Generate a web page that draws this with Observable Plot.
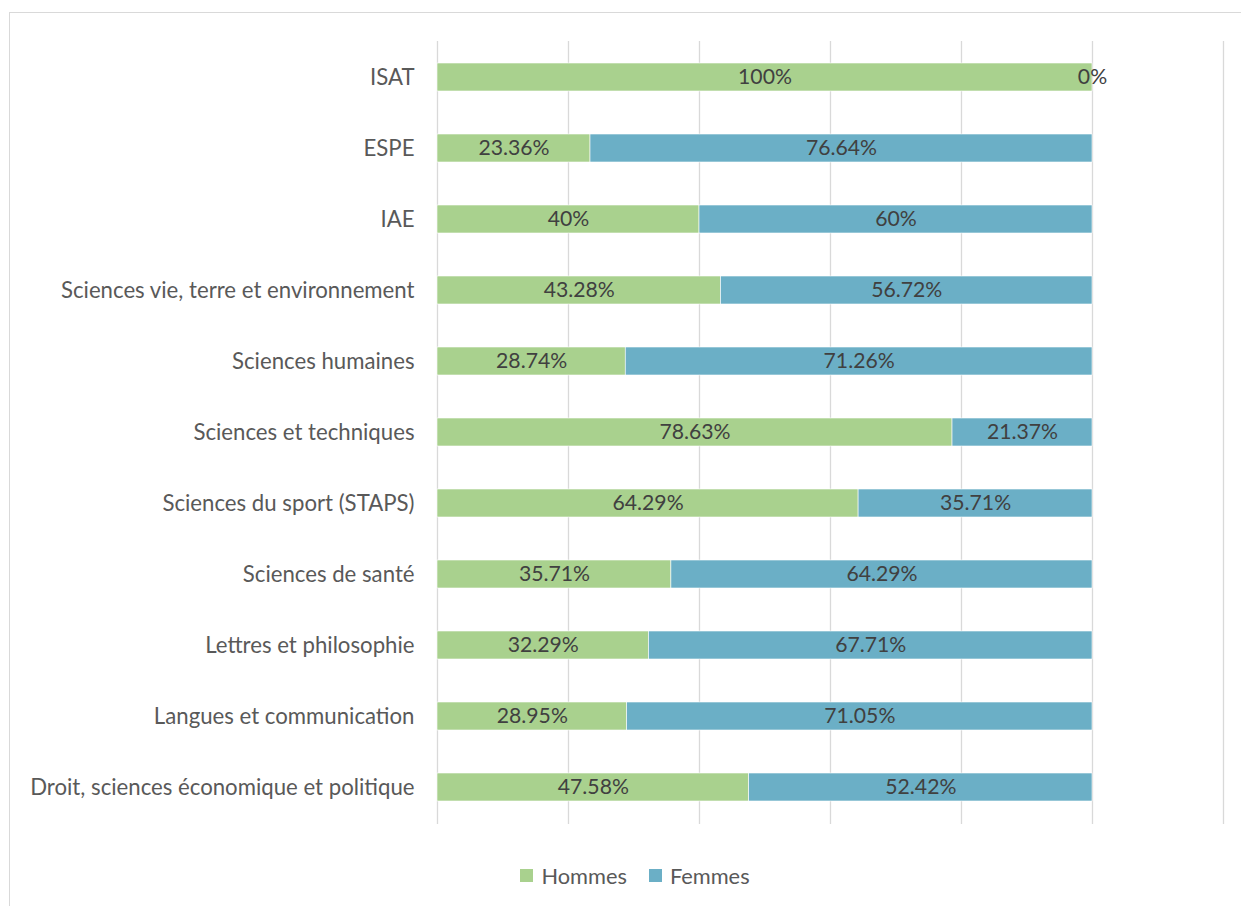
<!DOCTYPE html>
<html><head><meta charset="utf-8">
<script src="https://cdn.jsdelivr.net/npm/d3@7"></script>
<script src="https://cdn.jsdelivr.net/npm/@observablehq/plot@0.6"></script>
<style>
html,body{margin:0;padding:0;background:#fff;overflow:hidden;width:1241px;height:906px;}
#frame{position:absolute;left:9px;top:12px;width:1300px;height:1000px;border:1px solid #d9d9d9;box-sizing:border-box;}
#chart{position:absolute;left:0;top:0;}
#legend{position:absolute;left:0;top:862px;width:1270px;display:flex;justify-content:center;align-items:center;font-family:Lato,sans-serif;font-size:21.8px;color:#595959;}
#legend .item{display:flex;align-items:center;margin:0 11px;}
#legend .sw{width:13px;height:13px;margin-right:8px;}
</style></head>
<body>
<div id="frame"></div>
<div id="chart"></div>
<div id="legend"></div>
<script>
const categories = ["ISAT","ESPE","IAE","Sciences vie, terre et environnement","Sciences humaines","Sciences et techniques","Sciences du sport (STAPS)","Sciences de santé","Lettres et philosophie","Langues et communication","Droit, sciences économique et politique"];
const hommes = [1.00,0.2336,0.40,0.4328,0.2874,0.7863,0.6429,0.3571,0.3229,0.2895,0.4758];
const femmes = [0.00,0.7664,0.60,0.5672,0.7126,0.2137,0.3571,0.6429,0.6771,0.7105,0.5242];
const series = ["Hommes","Femmes"];
const colors = ["#a9d18e","#6bafc6"];
const gridTicks = [0,0.2,0.4,0.6,0.8,1.0,1.2];

const data = [];
categories.forEach((c,i)=>{
  data.push({cat:c, serie:series[0], value:hommes[i]});
  data.push({cat:c, serie:series[1], value:femmes[i]});
});
const fmt = v => `${+(v*100).toFixed(2)}%`;

const plot = Plot.plot({
  width:1241, height:840,
  marginLeft:437, marginRight:18, marginTop:41, marginBottom:16,
  style:{fontFamily:"Lato, sans-serif", fontSize:"22px", color:"#595959", background:"transparent"},
  x:{domain:[0,1.2], axis:null},
  y:{domain:categories, paddingInner:0.6, paddingOuter:0.3, label:null, tickSize:0, tickPadding:23},
  color:{domain:series, range:colors},
  marks:[
    Plot.ruleX(gridTicks,{stroke:"#d9d9d9", strokeWidth:1.3}),
    Plot.barX(data, Plot.stackX({x:"value", y:"cat", fill:"serie", order:series, stroke:"#ffffff", strokeWidth:0.6})),
    Plot.text(data, Plot.stackX({x:"value", y:"cat", z:"serie", order:series, text:d=>fmt(d.value), fill:"#404040", fontSize:21.2})),
    Plot.axisY({tickSize:0, tickPadding:23, fontSize:22.2, fill:"#595959", label:null})
  ]
});
document.getElementById("chart").appendChild(plot);

const lg = document.getElementById("legend");
series.forEach((s,i)=>{
  const it = document.createElement("div"); it.className="item";
  const sw = document.createElement("div"); sw.className="sw"; sw.style.background=colors[i];
  const t = document.createElement("span"); t.textContent=s;
  it.appendChild(sw); it.appendChild(t); lg.appendChild(it);
});
</script>
</body></html>
